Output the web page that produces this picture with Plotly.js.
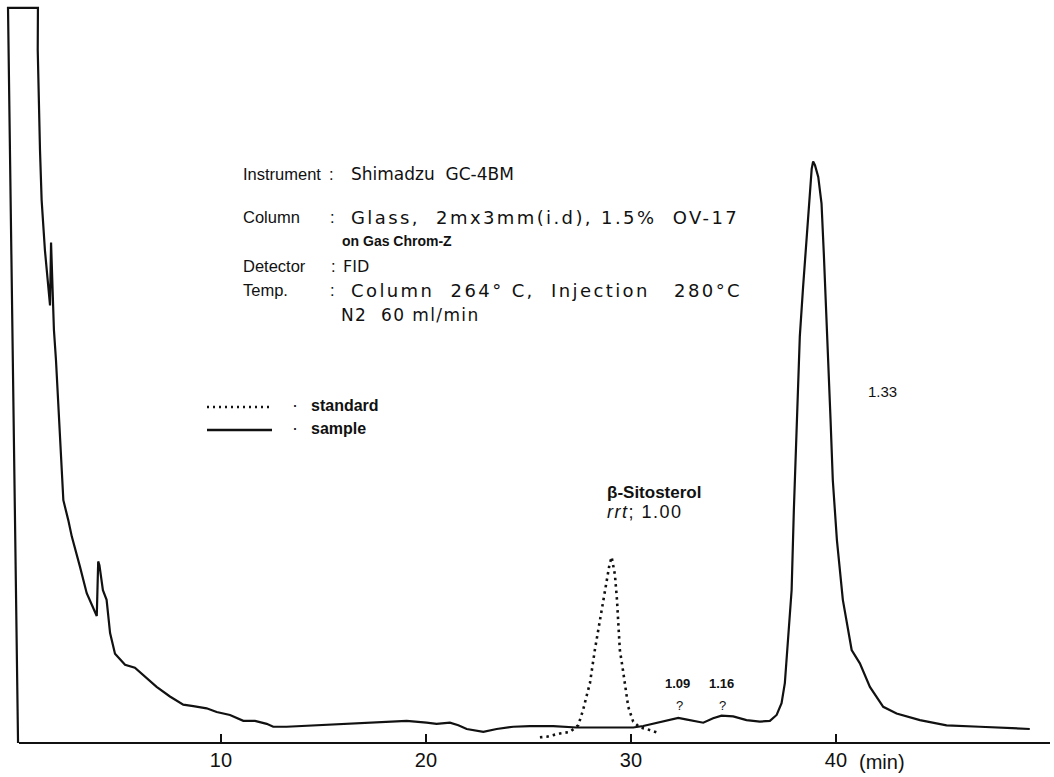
<!DOCTYPE html>
<html>
<head>
<meta charset="utf-8">
<script src="https://cdn.plot.ly/plotly-3.0.1.min.js"></script>
<style>html,body{margin:0;padding:0;background:#fff;}#chart{width:1054px;height:777px;}</style>
</head>
<body>
<div id="chart"></div>
<script>
// Retention time (min) and detector response (arbitrary units, 0-100)
const sampleTime = [0.10,-0.39,1.07,1.06,1.17,1.25,1.41,1.58,1.66,1.71,1.78,1.85,1.95,2.07,2.20,2.31,2.55,2.72,3.12,3.45,3.94,4.01,4.07,4.24,4.42,4.59,4.83,5.32,5.80,6.21,6.86,7.51,8.16,8.65,9.30,9.79,10.44,11.09,11.66,12.23,12.55,13.20,13.85,15.80,17.76,19.06,20.03,20.52,21.17,21.58,21.99,22.80,23.45,24.26,25.07,26.21,27.35,28.81,30.11,30.60,31.25,31.90,32.31,32.68,33.04,33.53,34.01,34.42,34.99,35.64,36.29,36.78,37.11,37.35,37.51,37.60,37.62,37.84,37.95,38.08,38.13,38.16,38.24,38.40,38.57,38.73,38.82,38.89,38.98,39.14,39.30,39.41,39.51,39.62,39.71,39.74,39.85,40.05,40.34,40.77,41.17,41.66,42.31,42.96,44.10,45.40,47.02,48.33,49.46];
const sampleResp = [0,99.6,99.6,93.9,80.4,73.6,66.8,61.0,59.3,67.8,60.2,56.0,51.9,45.1,38.3,32.9,30.2,28.0,23.9,20.3,17.2,24.6,24.1,20.7,19.4,14.9,12.1,10.6,10.2,9.2,7.6,6.3,5.2,5.0,4.7,4.2,3.8,3.0,3.0,2.6,2.2,2.2,2.3,2.6,2.9,3.0,2.75,2.6,2.75,2.4,1.9,1.5,1.9,2.2,2.3,2.3,2.1,2.1,2.1,2.3,2.75,3.2,3.4,3.2,3.0,2.75,3.35,3.7,3.6,3.1,2.9,3.0,3.8,5.4,8.1,11.2,12.6,20.7,31.6,42.4,43.8,48.3,55.1,61.8,68.6,75.4,77.8,78.8,78.3,76.7,73.1,66.4,59.6,52.8,48.3,43.8,35.6,27.5,19.4,12.6,10.8,7.6,4.9,4.0,3.1,2.4,2.2,2.0,1.9];

const standardTime = [25.56,25.89,26.54,27.02,27.43,27.67,27.85,28.00,28.24,28.49,28.68,28.83,28.95,29.06,29.15,29.22,29.32,29.46,29.61,29.71,29.87,30.11,30.44,30.77,31.41];
const standardResp = [0.77,0.85,1.3,1.5,2.4,4.5,6.5,8.1,12.6,16.7,20.1,22.1,24.1,25.2,24.1,22.8,19.4,12.6,9.9,8.1,4.9,2.9,2.1,1.9,1.3];

const tickValues = [10,20,30,40];
const tickLabels = ['10','20','30','40'];

const W = 1054, H = 777;
const M = {l:6, r:7, t:5, b:34};
const plotW = W - M.l - M.r, plotH = H - M.t - M.b;
// pixel -> paper helpers for text placement
const px = x => (x - M.l) / plotW;
const py = y => (H - M.b - y) / plotH;

const FONT = 'Liberation Sans, Arial, sans-serif';
const WIDE = 'DejaVu Sans, Verdana, sans-serif';
const INK = '#111';
const txt = (x, y, text, size=16, extra={}) => Object.assign({
  xref:'paper', yref:'paper', x:px(x), y:py(y), text:text, showarrow:false,
  xanchor:'left', yanchor:'middle', font:{family:FONT, size:size, color:INK}
}, extra);
const wide = (x, y, text, size, ls) => txt(x, y,
  '<span style="letter-spacing:' + ls + 'px">' + text + '</span>', size,
  {font:{family:WIDE, size:size, color:INK}});
const bold = (x, y, text, size, extra={}) => txt(x, y, text, size,
  Object.assign({font:{family:FONT, size:size, color:INK, weight:'bold'}}, extra));

const annotations = [
  txt(241,174,'Instrument', 16.5), txt(327,174,':', 16.5), wide(349,174,'Shimadzu  GC-4BM', 17, 0),
  txt(241,217,'Column', 16.5), txt(328,217,':', 16.5), wide(349,217,'Glass,  2mx3mm(i.d), 1.5%  OV-17', 18, 2.4),
  bold(340,241,'on Gas Chrom-Z', 14),
  txt(241,266,'Detector', 16.5), txt(329,266,':', 16.5), wide(341,266,'FID', 16, 0),
  txt(241,290,'Temp.', 16.5), txt(328,290,':', 16.5), wide(349,290,'Column  264° C,  Injection   280°C', 18, 2.4),
  wide(339,315,'N2  60 ml/min', 17, 1.4),
  txt(866,391,'1.33', 15),
  txt(290,405,'·', 18),
  bold(309,405,'standard', 16),
  txt(290,428,'·', 18),
  bold(309,428,'sample', 16),
  bold(605,492,'β-Sitosterol', 17),
  txt(605,512,'<span style="letter-spacing:1.5px"><i>rrt</i>; 1.00</span>', 18),
  bold(677,683,'1.09', 13, {xanchor:'center'}),
  txt(679,705,'?', 13, {xanchor:'center'}),
  bold(721,683,'1.16', 13, {xanchor:'center'}),
  txt(722,705,'?', 13, {xanchor:'center'}),
  txt(857,762,'(min)', 20)
];

const shapes = [
  // x axis line (starts at the solvent front, as in the original)
  {type:'line', xref:'paper', yref:'paper', x0:px(19), x1:px(1050), y0:0, y1:0,
   line:{color:INK, width:2}},
  // legend keys
  {type:'line', xref:'paper', yref:'paper', x0:px(207), x1:px(272), y0:py(407), y1:py(407),
   line:{color:INK, width:2.5, dash:'2px,4px'}},
  {type:'line', xref:'paper', yref:'paper', x0:px(207), x1:px(272), y0:py(430), y1:py(430),
   line:{color:INK, width:2.5}}
];

const traces = [
  {x:sampleTime, y:sampleResp, type:'scatter', mode:'lines', name:'sample',
   line:{color:INK, width:2.2}, showlegend:false, hoverinfo:'skip'},
  {x:standardTime, y:standardResp, type:'scatter', mode:'lines', name:'standard',
   line:{color:INK, width:2.6, dash:'2.5px,4px'}, showlegend:false, hoverinfo:'skip'}
];

const layout = {
  width:W, height:H, margin:M, paper_bgcolor:'#fff', plot_bgcolor:'#fff',
  showlegend:false,
  xaxis:{range:[-0.488,50.3], showgrid:false, zeroline:false, showline:false,
    ticks:'inside', ticklen:9, tickwidth:2, tickcolor:INK, tickvals:tickValues, ticktext:tickLabels,
    ticklabelstandoff:3,
    tickfont:{family:FONT, size:20, color:INK}, fixedrange:true},
  yaxis:{range:[0,100], showgrid:false, zeroline:false, showline:false, showticklabels:false, ticks:'', fixedrange:true},
  annotations:annotations, shapes:shapes
};

Plotly.newPlot('chart', traces, layout, {staticPlot:true, displayModeBar:false});
</script>
</body>
</html>
